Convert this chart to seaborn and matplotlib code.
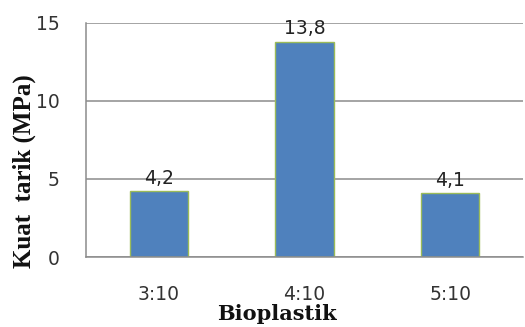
import pandas as pd
import seaborn as sns
import matplotlib.pyplot as plt

# data
categories = ["3:10", "4:10", "5:10"]
values = [4.2, 13.8, 4.1]
value_labels = ["4,2", "13,8", "4,1"]
y_ticks = [0, 5, 10, 15]

data = pd.DataFrame({"Bioplastik": categories, "Kuat tarik": values})

sns.set_style("white")
plt.rcParams['font.family'] = ['DejaVu Sans']

fig = plt.figure(figsize=(5.25, 3.27), dpi=100)
ax = fig.add_axes([0.164, 0.214, 0.832, 0.716])

sns.barplot(x="Bioplastik", y="Kuat tarik", data=data, color="#4F81BD",
            width=0.4, edgecolor="#9BBB59", linewidth=1, saturation=1, ax=ax)

#value labels with comma decimals
ax.bar_label(ax.containers[0], labels=value_labels, padding=2.5, fontsize=13.5, color="#222222")

ax.set_ylim(0, 15)
ax.set_xlim(-0.5, 2.5)
ax.set_yticks(y_ticks)
ax.yaxis.grid(True, color="#8c8c8c", linewidth=1.1)
ax.set_axisbelow(True)

#category separators as minor ticks on the x axis
ax.set_xticks([-0.5, 0.5, 1.5, 2.5], minor=True)
ax.tick_params(axis="x", which="major", length=0, pad=20, labelsize=13.5, labelcolor="#333333")
ax.tick_params(axis="x", which="minor", length=7, width=1.1, color="#8c8c8c", direction="out")
ax.tick_params(axis="y", length=7, width=1.1, color="#8c8c8c", direction="out", pad=12,
               labelsize=13.5, labelcolor="#333333")

for side in ["top", "right"]:
    ax.spines[side].set_visible(False)
for side in ["left", "bottom"]:
    ax.spines[side].set_color("#8c8c8c")
    ax.spines[side].set_linewidth(1.1)

ax.set_xlabel("")
ax.set_ylabel("")
fig.text(0.047, 0.477, "Kuat  tarik (MPa)", rotation=90, ha="center", va="center",
         family="Liberation Serif", fontweight="bold", fontsize=18, color="#111111")
fig.text(0.528, 0.040, "Bioplastik", ha="center", va="center",
         family="DejaVu Serif", fontweight="bold", fontsize=15, color="#111111")

plt.savefig("out.png", dpi=100)
